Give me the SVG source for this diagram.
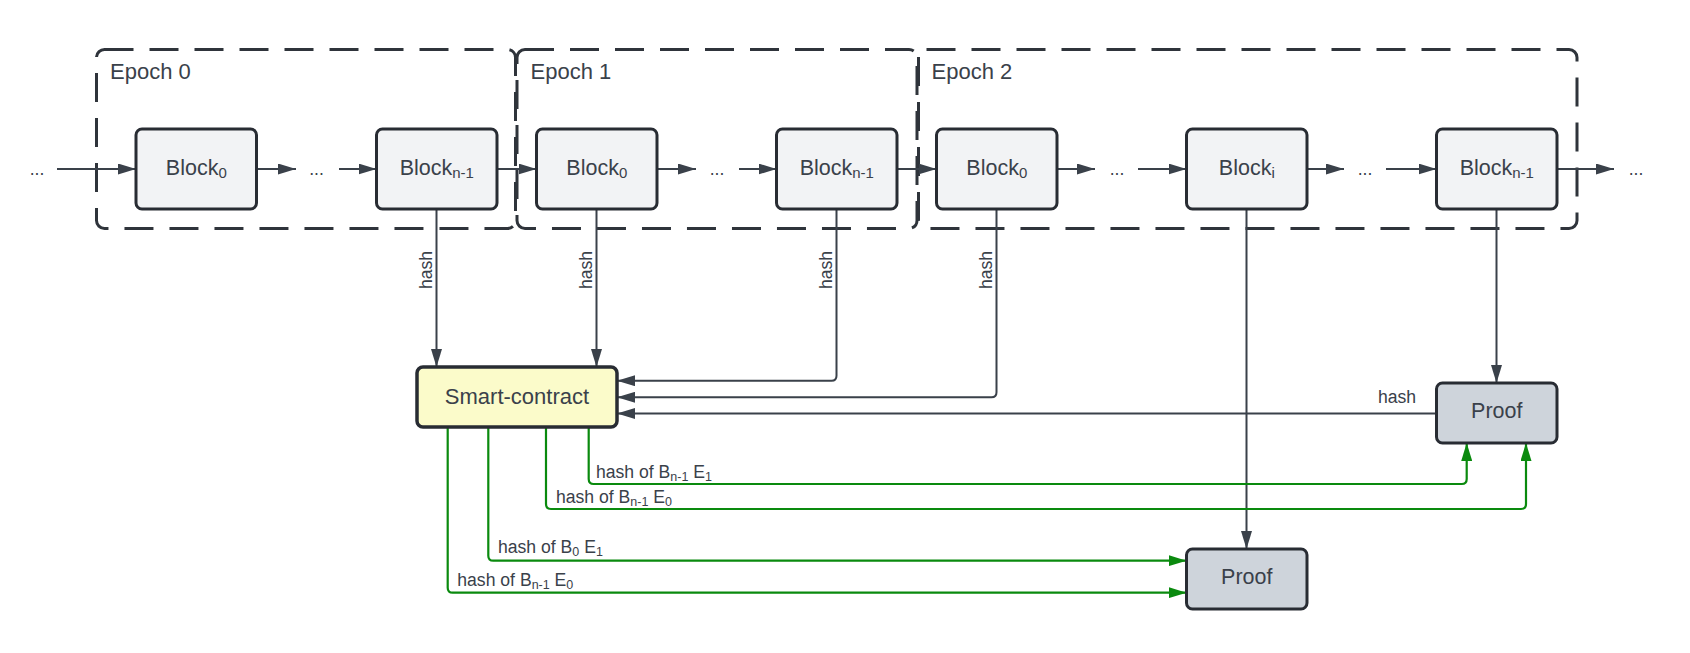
<svg xmlns="http://www.w3.org/2000/svg" width="1690" height="653" viewBox="0 0 1690 653">
<style>
text{font-family:"Liberation Sans",Arial,sans-serif;fill:#3a414a}
.epoch{fill:none;stroke:#2f343b;stroke-width:3;stroke-dasharray:29 16}
.blk{fill:#f2f3f5;stroke:#282c33;stroke-width:3}
.prf{fill:#ced4db;stroke:#282c33;stroke-width:3}
.sc{fill:#fbfbca;stroke:#282c33;stroke-width:3.5}
.nt{font-size:21.5px;text-anchor:middle}
.st{font-size:22px;text-anchor:middle}
.et{font-size:22px}
.sm{font-size:17.6px}
.bs{font-size:15px}
.ls{font-size:12.5px}
.c{fill:none;stroke:#3a414a;stroke-width:2}
.ca{fill:none;stroke:#3a414a;stroke-width:2;marker-end:url(#ad)}
.g{fill:none;stroke:#0a8a0e;stroke-width:2.2;marker-end:url(#ag)}
</style>
<defs>
<marker id="ad" markerUnits="userSpaceOnUse" markerWidth="18" markerHeight="11" refX="18" refY="5.5" orient="auto"><path d="M0,0 L18,5.5 L0,11 z" fill="#3a414a"/></marker>
<marker id="ag" markerUnits="userSpaceOnUse" markerWidth="18" markerHeight="11" refX="18" refY="5.5" orient="auto"><path d="M0,0 L18,5.5 L0,11 z" fill="#0a8a0e"/></marker>
</defs>
<rect width="1690" height="653" fill="#ffffff"/>

<g id="epoch0"><rect class="epoch" x="96.5" y="49.5" width="419" height="179" rx="8"/><text class="et" x="110" y="79.3">Epoch 0</text></g>
<g id="epoch1"><rect class="epoch" x="517" y="49.5" width="400" height="179" rx="8"/><text class="et" x="530.5" y="79.3">Epoch 1</text></g>
<g id="epoch2"><rect class="epoch" x="918.5" y="49.5" width="658.5" height="179" rx="8"/><text class="et" x="931.5" y="79.3">Epoch 2</text></g>

<g id="connectors">
<path class="ca" d="M57,169 H136"/>
<path class="ca" d="M257,169 H296"/>
<path class="ca" d="M339,169 H376.5"/>
<path class="ca" d="M497,169 H536.5"/>
<path class="ca" d="M657,169 H696"/>
<path class="ca" d="M739,169 H776.5"/>
<path class="ca" d="M897,169 H936.5"/>
<path class="ca" d="M1057,169 H1095"/>
<path class="ca" d="M1138,169 H1186.5"/>
<path class="ca" d="M1307,169 H1344"/>
<path class="ca" d="M1386,169 H1436.5"/>
<path class="ca" d="M1557,169 H1614"/>

<path class="ca" d="M436.5,209 V367"/>
<path class="ca" d="M596.5,209 V367"/>
<path class="ca" d="M836.5,209 V375.7 Q836.5,380.7 831.5,380.7 H617"/>
<path class="ca" d="M996.5,209 V392.3 Q996.5,397.3 991.5,397.3 H617"/>
<path class="ca" d="M1436.5,413.5 H617"/>
<path class="ca" d="M1246.5,209 V549"/>
<path class="ca" d="M1496.5,209 V383"/>

<path class="g" d="M588.7,427 V479 Q588.7,484 593.7,484 H1461.7 Q1466.7,484 1466.7,479 V443"/>
<path class="g" d="M546,427 V504 Q546,509 551,509 H1521 Q1526,509 1526,504 V443"/>
<path class="g" d="M488.3,427 V555.7 Q488.3,560.7 493.3,560.7 H1186.5"/>
<path class="g" d="M447.7,427 V587.7 Q447.7,592.7 452.7,592.7 H1186.5"/>

<text class="sm" transform="translate(432,270) rotate(-90)" text-anchor="middle">hash</text>
<text class="sm" transform="translate(592,270) rotate(-90)" text-anchor="middle">hash</text>
<text class="sm" transform="translate(832,270) rotate(-90)" text-anchor="middle">hash</text>
<text class="sm" transform="translate(992,270) rotate(-90)" text-anchor="middle">hash</text>
<text class="sm" x="1378" y="402.7">hash</text>

<text class="sm" x="596" y="477.7">hash of B<tspan class="ls" dy="3">n-1</tspan><tspan dy="-3"> E</tspan><tspan class="ls" dy="3">1</tspan></text>
<text class="sm" x="556" y="503">hash of B<tspan class="ls" dy="3">n-1</tspan><tspan dy="-3"> E</tspan><tspan class="ls" dy="3">0</tspan></text>
<text class="sm" x="498" y="552.7">hash of B<tspan class="ls" dy="3">0</tspan><tspan dy="-3"> E</tspan><tspan class="ls" dy="3">1</tspan></text>
<text class="sm" x="457.3" y="586">hash of B<tspan class="ls" dy="3">n-1</tspan><tspan dy="-3"> E</tspan><tspan class="ls" dy="3">0</tspan></text>

<text class="sm" x="37" y="175" text-anchor="middle">...</text>
<text class="sm" x="316.5" y="175" text-anchor="middle">...</text>
<text class="sm" x="717" y="175" text-anchor="middle">...</text>
<text class="sm" x="1117" y="175" text-anchor="middle">...</text>
<text class="sm" x="1365" y="175" text-anchor="middle">...</text>
<text class="sm" x="1636" y="175" text-anchor="middle">...</text>
</g>

<g id="e0-block0"><rect class="blk" x="136" y="129" width="120.5" height="80" rx="6"/><text class="nt" x="196.3" y="174.5">Block<tspan class="bs" dy="3">0</tspan></text></g>
<g id="e0-blockn1"><rect class="blk" x="376.5" y="129" width="120.5" height="80" rx="6"/><text class="nt" x="436.8" y="174.5">Block<tspan class="bs" dy="3">n-1</tspan></text></g>
<g id="e1-block0"><rect class="blk" x="536.5" y="129" width="120.5" height="80" rx="6"/><text class="nt" x="596.8" y="174.5">Block<tspan class="bs" dy="3">0</tspan></text></g>
<g id="e1-blockn1"><rect class="blk" x="776.5" y="129" width="120.5" height="80" rx="6"/><text class="nt" x="836.8" y="174.5">Block<tspan class="bs" dy="3">n-1</tspan></text></g>
<g id="e2-block0"><rect class="blk" x="936.5" y="129" width="120.5" height="80" rx="6"/><text class="nt" x="996.8" y="174.5">Block<tspan class="bs" dy="3">0</tspan></text></g>
<g id="e2-blocki"><rect class="blk" x="1186.5" y="129" width="120.5" height="80" rx="6"/><text class="nt" x="1246.8" y="174.5">Block<tspan class="bs" dy="3">i</tspan></text></g>
<g id="e2-blockn1"><rect class="blk" x="1436.5" y="129" width="120.5" height="80" rx="6"/><text class="nt" x="1496.8" y="174.5">Block<tspan class="bs" dy="3">n-1</tspan></text></g>

<g id="smart-contract"><rect class="sc" x="417" y="367" width="200" height="60" rx="6"/><text class="st" x="517" y="403.5">Smart-contract</text></g>
<g id="proof-top"><rect class="prf" x="1436.5" y="383" width="120.5" height="60" rx="6"/><text class="nt" x="1496.8" y="418">Proof</text></g>
<g id="proof-bottom"><rect class="prf" x="1186.5" y="549" width="120.5" height="60" rx="6"/><text class="nt" x="1246.8" y="583.5">Proof</text></g>
</svg>
